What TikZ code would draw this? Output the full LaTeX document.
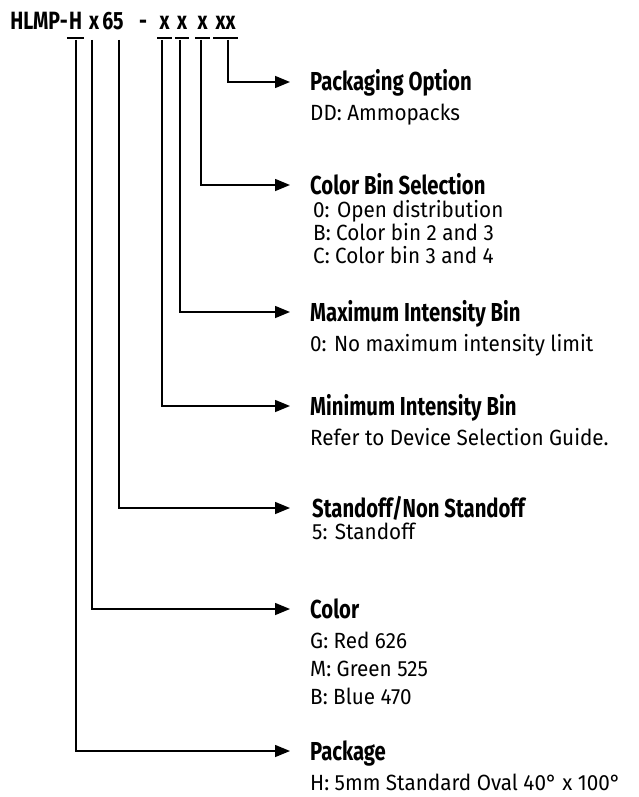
\documentclass[tikz,border=0pt]{standalone}
\usepackage{fontspec}
\setmainfont{Fira Sans}[FakeStretch=0.94]
\newfontfamily\headfont[FakeStretch=0.78]{Fira Sans}
\usetikzlibrary{arrows.meta}
\usetikzlibrary{positioning}

\tikzset{
  conn/.style={line width=1.5pt, -{Triangle[length=15pt,width=12pt]}, shorten >=20pt},
  uline/.style={line width=2pt},
  title/.style={anchor=base, inner sep=0pt, font=\headfont\bfseries\fontsize{25}{25}\selectfont},
  ultitle/.style={title, inner xsep=2pt},
  head/.style={anchor=west, inner sep=0pt, text height=18pt, text depth=0pt,
    font=\headfont\bfseries\fontsize{26}{26}\selectfont},
  desc/.style={inner sep=0pt, align=left, font=\fontsize{22}{#1}\selectfont},
  desc/.default=28pt,
}

\begin{document}
\begin{tikzpicture}[x=1pt, y=-1pt]
  \useasboundingbox (0,0) rectangle (639,797);

  % Part number
  \node[title, anchor=base east] (tPre) at (68,30) {HLMP-};
  \node[ultitle] (tH)   at (75.5,30) {H};
  \node[title]   (tX)   at (94,30)   {x};
  \node[title]   (t65)  at (113,30)  {65};
  \node[title]   (tDash) at (143,30) {-};
  \node[ultitle] (tMin) at (164.5,30) {x};
  \node[ultitle] (tMax) at (182,30)  {x};
  \node[ultitle] (tBin) at (202.5,30) {x};
  \node[ultitle] (tOpt) at (225.5,30) {xx};

  % Underlines
  \foreach \n in {tH, tMin, tMax, tBin, tOpt}
    \draw[uline] ([yshift=-8pt]\n.base west) -- ([yshift=-8pt]\n.base east);

  % Line start points
  \coordinate (cPkg) at (76,40);
  \coordinate (cCol) at (92,40);
  \coordinate (cStd) at (119,40);
  \coordinate (cMin) at (162,40);
  \coordinate (cMax) at (180,40);
  \coordinate (cBin) at (201,40);
  \coordinate (cOpt) at (228,40);

  % Headings
  \node[head] (hOpt) at (310,82)  {Packaging Option};
  \node[head] (hBin) at (310,185) {Color Bin Selection};
  \node[head] (hMax) at (310,312) {Maximum Intensity Bin};
  \node[head] (hMin) at (310,406) {Minimum Intensity Bin};
  \node[head] (hStd) at (312,508) {Standoff/Non Standoff};
  \node[head] (hCol) at (310,609) {Color};
  \node[head] (hPkg) at (310,751) {Package};

  % Descriptions
  \node[desc, below=13pt of hOpt.south west, anchor=north west] (dOpt) {DD: Ammopacks};
  \node[desc=23pt, below=6pt of hBin.south west, anchor=north west, xshift=3pt] (dBin)
    {0: Open distribution\\B: Color bin 2 and 3\\C: Color bin 3 and 4};
  \node[desc, below=13pt of hMax.south west, anchor=north west] (dMax) {0: No maximum intensity limit};
  \node[desc, below=13pt of hMin.south west, anchor=north west] (dMin) {Refer to Device Selection Guide.};
  \node[desc, below=6pt of hStd.south west, anchor=north west] (dStd) {5: Standoff};
  \node[desc, below=14pt of hCol.south west, anchor=north west] (dCol)
    {G: Red 626\\M: Green 525\\B: Blue 470};
  \node[desc, below=14pt of hPkg.south west, anchor=north west] (dPkg) {H: 5mm Standard Oval 40° x 100°};

  % Connectors
  \draw[conn] (cOpt) |- (hOpt.west);
  \draw[conn] (cBin) |- (hBin.west);
  \draw[conn] (cMax) |- (hMax.west);
  \draw[conn] (cMin) |- (hMin.west);
  \draw[conn] (cStd) |- ([xshift=-2pt]hStd.west);
  \draw[conn] (cCol) |- (hCol.west);
  \draw[conn] (cPkg) |- (hPkg.west);
\end{tikzpicture}
\end{document}
